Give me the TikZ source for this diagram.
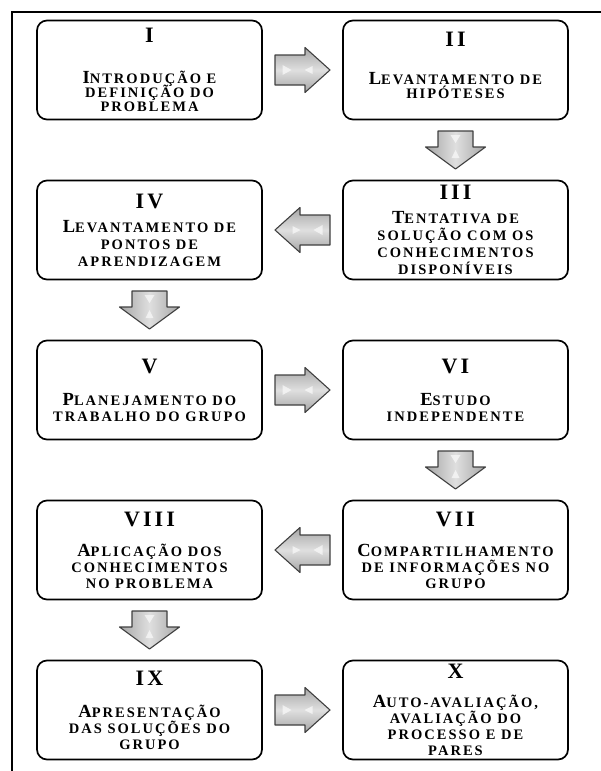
\documentclass[tikz,border=0pt]{standalone}
\usepackage{fontspec}
\newfontfamily\stepfont{Liberation Serif}[LetterSpace=14]
\usetikzlibrary{positioning, calc}

% roman numeral on its own line, optional gap below it
\newcommand{\numeral}[2][17pt]{{\fontsize{22}{22}\selectfont #2}\\[#1]}
\newcommand{\firstcap}[1]{{\fontsize{18.5}{16}\selectfont #1}}

\tikzset{
  rarrow/.pic={
    \path[top color=gray!70, bottom color=gray!70, middle color=gray!25, draw=black!75, line width=1.1pt, line join=round]
      (-27.5,15) -- (2.5,15) -- (2.5,22.5) -- (27.5,0) -- (2.5,-22.5) -- (2.5,-15) -- (-27.5,-15) -- cycle;
    \fill[white, opacity=.6] (-20,5) -- (-11,0) -- (-20,-5) -- cycle;
    \fill[white, opacity=.6] (10,4) -- (2,0) -- (10,-4) -- cycle;
  },
  darrow/.pic={
    \path[left color=gray!70, right color=gray!70, middle color=gray!25, draw=black!75, line width=1.1pt, line join=round]
      (-17.5,19) -- (17.5,19) -- (17.5,3) -- (30,3) -- (0,-19) -- (-30,3) -- (-17.5,3) -- cycle;
    \fill[white, opacity=.6] (-5,15) -- (5,15) -- (0,7) -- cycle;
    \fill[white, opacity=.6] (-4,-8) -- (4,-8) -- (0,0) -- cycle;
  }
}

\begin{document}
\begin{tikzpicture}[x=1pt, y=1pt, node distance=61pt and 81pt]
        \tikzstyle{stepbox} = [draw=black, line width=1.7pt, rounded corners=10pt, minimum width=225pt, minimum height=99pt, inner sep=0pt, outer sep=0pt, align=center, font=\stepfont\bfseries\fontsize{14.5}{16}\selectfont]
        \tikzstyle{frame} = [line width=1.2pt]

        \useasboundingbox (0,0) rectangle (601,-771);
        \draw[frame] (12,-771) -- (12,-12) -- (601,-12);

        \node (intro) [stepbox] at (149.5,-70) {\numeral[25pt]{I}\firstcap{I}NTRODUÇÃO E\\[-2pt]DEFINIÇÃO DO\\[-2pt]PROBLEMA};
        \node (hip) [stepbox, right=of intro] {\numeral[22pt]{II}\firstcap{L}EVANTAMENTO DE\\[-2pt]HIPÓTESES\\[-6pt]};
        \node (tent) [stepbox, below=of hip] {\numeral[8pt]{III}\firstcap{T}ENTATIVA DE\\[1pt]SOLUÇÃO COM OS\\[1pt]CONHECIMENTOS\\[1pt]DISPONÍVEIS};
        \node (pontos) [stepbox, left=of tent] {\numeral[8pt]{IV}\firstcap{L}EVANTAMENTO DE\\[1pt]PONTOS DE\\[1pt]APRENDIZAGEM};
        \node (plan) [stepbox, below=of pontos] {\numeral[16pt]{V}\firstcap{P}LANEJAMENTO DO\\TRABALHO DO GRUPO};
        \node (estudo) [stepbox, right=of plan] {\numeral[16pt]{VI}\firstcap{E}STUDO\\INDEPENDENTE};
        \node (comp) [stepbox, below=of estudo] {\numeral[14pt]{VII}\firstcap{C}OMPARTILHAMENTO\\DE INFORMAÇÕES NO\\GRUPO};
        \node (aplic) [stepbox, left=of comp] {\numeral[14pt]{VIII}\firstcap{A}PLICAÇÃO DOS\\CONHECIMENTOS\\NO PROBLEMA};
        \node (apres) [stepbox, below=of aplic] {\numeral[16pt]{IX}\firstcap{A}PRESENTAÇÃO\\DAS SOLUÇÕES DO\\GRUPO};
        \node (aval) [stepbox, right=of apres] {\numeral[13pt]{X}\firstcap{A}UTO-AVALIAÇÃO,\\AVALIAÇÃO DO\\PROCESSO E DE\\PARES};

        % block arrows between the steps
        \pic at ($(intro.east)!0.5!(hip.west)$) {rarrow};
        \pic at ($(hip.south)!0.5!(tent.north)$) {darrow};
        \pic[rotate=180] at ($(tent.west)!0.5!(pontos.east)$) {rarrow};
        \pic at ($(pontos.south)!0.5!(plan.north)$) {darrow};
        \pic at ($(plan.east)!0.5!(estudo.west)$) {rarrow};
        \pic at ($(estudo.south)!0.5!(comp.north)$) {darrow};
        \pic[rotate=180] at ($(comp.west)!0.5!(aplic.east)$) {rarrow};
        \pic at ($(aplic.south)!0.5!(apres.north)$) {darrow};
        \pic at ($(apres.east)!0.5!(aval.west)$) {rarrow};

    \end{tikzpicture}
\end{document}
